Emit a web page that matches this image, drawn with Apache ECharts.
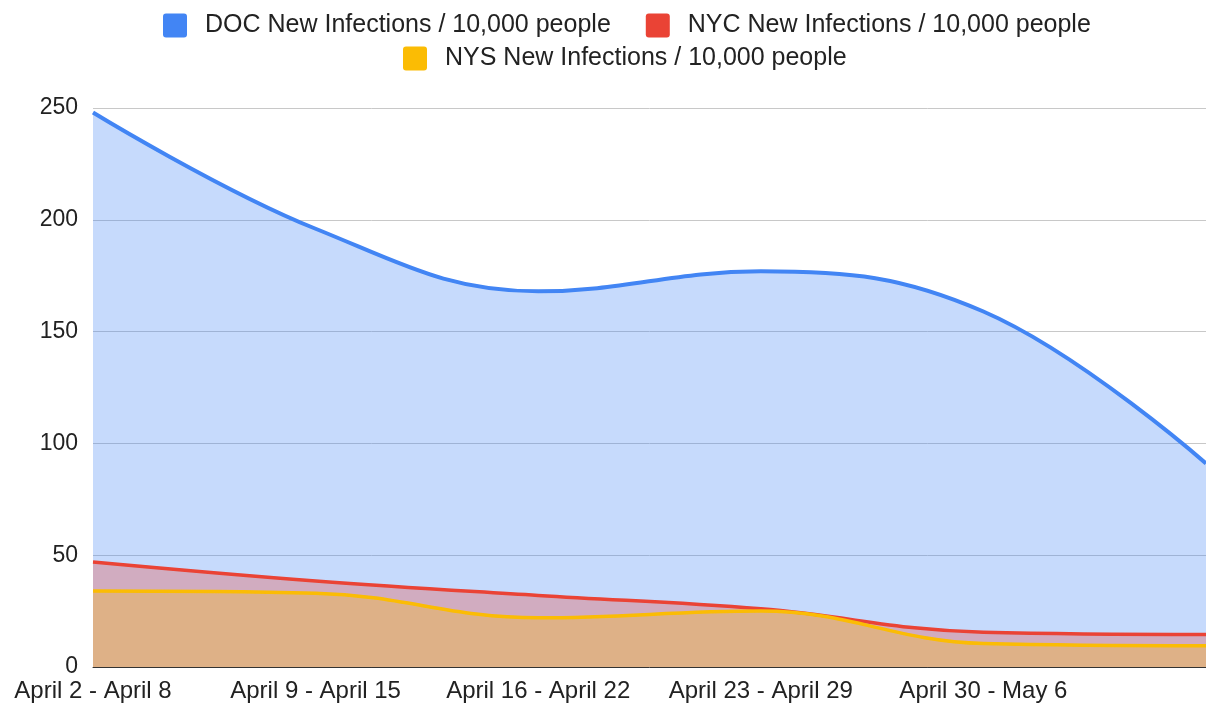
<!DOCTYPE html>
<html>
<head>
<meta charset="utf-8">
<script src="https://cdn.jsdelivr.net/npm/echarts@6/dist/echarts.min.js"></script>
<style>
html,body{margin:0;padding:0;background:#fff;}
#chart{width:1206px;height:707px;}
</style>
</head>
<body>
<div id="chart"></div>
<script>
const categories = ["April 2 - April 8", "April 9 - April 15", "April 16 - April 22", "April 23 - April 29", "April 30 - May 6", "May 7 - May 13"];
const docValues = [248, 196, 168, 177, 159, 91];
const nycValues = [47, 38.5, 32, 26, 15.5, 14.5];
const nysValues = [34, 33, 22, 25, 10.5, 9.5];
const yTicks = [0, 50, 100, 150, 200, 250];

const names = ["DOC New Infections / 10,000 people", "NYC New Infections / 10,000 people", "NYS New Infections / 10,000 people"];
const colors = ["#4285F4", "#EA4335", "#FBBC04"];
const font = "Liberation Sans, Arial, sans-serif";

const chart = echarts.init(document.getElementById('chart'));
const legendCommon = {
  icon: 'path://M3,0 H21 Q24,0 24,3 V21 Q24,24 21,24 H3 Q0,24 0,21 V3 Q0,0 3,0 Z',
  itemWidth: 24, itemHeight: 24, itemGap: 35,
  textStyle: {fontSize: 25, color: '#222', fontFamily: font, padding: [0, 0, 0, 13]},
  selectedMode: false
};
function mk(i, data) {
  return {
    name: names[i], type: 'line', data: data, smooth: 0.4, showSymbol: false,
    lineStyle: {width: i === 0 ? 4 : 3.5, color: colors[i]},
    itemStyle: {color: colors[i]},
    areaStyle: {color: colors[i], opacity: 0.3},
    z: 2 + i
  };
}
chart.setOption({
  animation: false,
  color: colors,
  legend: [
    Object.assign({data: [names[0], names[1]], top: 8, left: 158}, legendCommon),
    Object.assign({data: [names[2]], top: 41, left: 398}, legendCommon)
  ],
  grid: {left: 93, right: 0, top: 108, bottom: 40, containLabel: false},
  xAxis: {
    type: 'category', data: categories, boundaryGap: false,
    axisLine: {lineStyle: {color: '#333', width: 1}},
    axisTick: {show: false},
    axisLabel: {fontSize: 24, color: '#222', fontFamily: font, margin: 12,
      interval: function (i) { return i < categories.length - 1; }}
  },
  yAxis: {
    type: 'value', min: yTicks[0], max: yTicks[yTicks.length - 1], interval: 50,
    axisLine: {show: false}, axisTick: {show: false},
    axisLabel: {fontSize: 23, color: '#222', fontFamily: font, margin: 15},
    splitLine: {lineStyle: {color: '#c8c8c8', width: 1}}
  },
  series: [mk(0, docValues), mk(1, nycValues), mk(2, nysValues)]
});
</script>
</body>
</html>
